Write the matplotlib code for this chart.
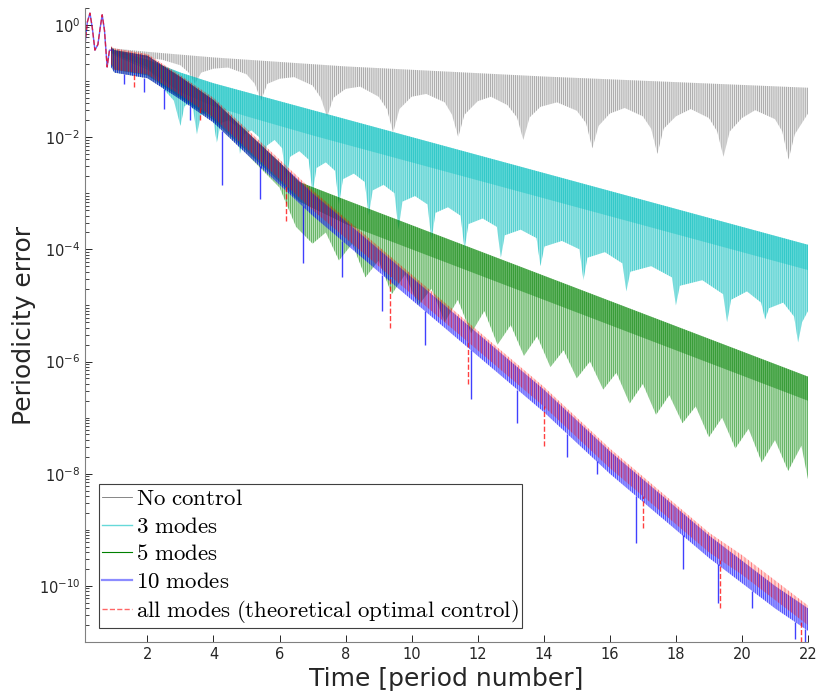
import numpy as np
import matplotlib.pyplot as plt
from matplotlib.lines import Line2D
from matplotlib.ticker import LogLocator, NullFormatter

# values, stored as log10(periodicity error)

# start-up transient shared by every run
t_start = [0.11, 0.18, 0.26, 0.33, 0.41, 0.50, 0.57, 0.63, 0.70, 0.78, 0.85, 0.92]
start_log = [-0.35, 0.05, 0.21, -0.05, -0.45, -0.35, -0.05, 0.18, -0.1, -0.75, -0.45, -0.45]

# No control: top of the oscillation and its scalloped bottom
t_none_up = [0.9, 1, 2, 4, 6, 8, 10, 12, 14, 16, 18, 20, 22]
none_up = [-0.4, -0.42, -0.48, -0.58, -0.66, -0.74, -0.8, -0.86, -0.92, -0.97, -1.02, -1.07, -1.12]
t_none_lo = [0.9, 1.5, 2.44, 3.0, 3.25, 3.44, 3.63, 4.0, 4.44, 5.0, 5.25, 5.44, 5.63, 6.0, 6.44,
             7.0, 7.25, 7.44, 7.63, 8.0, 8.44, 9.0, 9.25, 9.44, 9.63, 10.0, 10.44, 11.0, 11.22,
             11.41, 11.6, 12.0, 12.4, 12.9, 13.19, 13.38, 13.57, 13.9, 14.4, 15.0, 15.28,
             15.47, 15.66, 16.0, 16.45, 17.0, 17.25, 17.44, 17.63, 18.0, 18.45, 19.0, 19.25,
             19.44, 19.63, 20.0, 20.4, 21.0, 21.22, 21.41, 21.6, 22.0]
none_lo = [-0.5, -0.55, -0.62, -0.72, -0.85, -1.05, -0.85, -0.78, -0.76, -0.88, -1.05, -1.35,
           -1.05, -0.96, -0.93, -1.08, -1.3, -1.64, -1.3, -1.14, -1.1, -1.28, -1.5, -1.92,
           -1.5, -1.28, -1.23, -1.38, -1.6, -2.0, -1.6, -1.36, -1.28, -1.43, -1.65, -2.05,
           -1.65, -1.46, -1.38, -1.53, -1.75, -2.2, -1.8, -1.58, -1.48, -1.63, -1.85, -2.3,
           -1.85, -1.63, -1.5, -1.66, -1.9, -2.35, -1.9, -1.66, -1.52, -1.68, -1.9, -2.4,
           -1.95, -1.58]

# 3 modes: top edge, bottom of the dense part, scalloped bottom
t_3m_up = [0.9, 1, 2, 3, 4, 5, 6, 7, 8, 9, 10, 11, 12, 13, 14, 15, 16, 17, 18, 19, 20, 21, 22]
m3_up = [-0.4, -0.45, -0.62, -0.85, -1.04, -1.2, -1.36, -1.52, -1.68, -1.84, -2.0, -2.16,
         -2.32, -2.48, -2.64, -2.8, -2.96, -3.12, -3.28, -3.44, -3.6, -3.76, -3.92]
m3_mid = [-0.5, -0.55, -0.8, -1.2, -1.45, -1.63, -1.8, -1.97, -2.13, -2.29, -2.45, -2.61,
          -2.77, -2.93, -3.09, -3.25, -3.41, -3.57, -3.73, -3.89, -4.05, -4.21, -4.37]
t_3m_lo = [0.9, 2.0, 2.5, 2.8, 3.0, 3.12, 3.25, 3.38, 3.5, 3.62, 3.8, 3.98, 4.1, 4.22, 4.45,
           4.68, 4.8, 4.92, 5.15, 5.38, 5.5, 5.62, 5.85, 6.08, 6.2, 6.32, 6.6, 6.88, 7.0,
           7.12, 7.4, 7.68, 7.8, 7.92, 8.25, 8.58, 8.7, 8.82, 9.15, 9.48, 9.6, 9.72, 10.1,
           10.48, 10.6, 10.72, 11.1, 11.48, 11.6, 11.72, 12.15, 12.58, 12.7, 12.82, 13.3,
           13.78, 13.9, 14.02, 14.55, 15.08, 15.2, 15.32, 15.85, 16.38, 16.5, 16.62, 17.25,
           17.88, 18.0, 18.12, 18.8, 19.43, 19.55, 19.67, 20.15, 20.58, 20.7, 20.82, 21.25,
           21.58, 21.7, 21.82, 22.0]
m3_lo = [-0.5, -0.75, -1.15, -1.35, -1.8, -1.45, -1.4, -1.5, -1.95, -1.6, -1.55, -1.65, -2.1,
         -1.75, -1.7, -1.8, -2.3, -1.95, -1.88, -2.0, -2.55, -2.15, -2.05, -2.2, -2.8, -2.35,
         -2.25, -2.4, -3.0, -2.55, -2.45, -2.6, -3.2, -2.75, -2.65, -2.8, -3.4, -2.95, -2.85,
         -3.0, -3.65, -3.15, -3.05, -3.2, -3.85, -3.35, -3.25, -3.4, -4.0, -3.55, -3.45,
         -3.6, -4.15, -3.75, -3.65, -3.8, -4.3, -3.95, -3.85, -4.0, -4.55, -4.15, -4.05,
         -4.25, -4.75, -4.4, -4.3, -4.5, -5.0, -4.65, -4.55, -4.8, -5.3, -4.9, -4.75, -4.95,
         -5.25, -5.05, -4.95, -5.2, -5.66, -5.3, -5.1]

# 5 modes
t_5m_up = [0.9, 1, 2, 3, 4, 5, 6, 6.6, 8, 10, 12, 14, 16, 18, 20, 22]
m5_up = [-0.4, -0.45, -0.55, -0.93, -1.34, -1.9, -2.45, -2.8, -3.12, -3.57, -4.02, -4.47,
         -4.92, -5.37, -5.82, -6.27]
m5_mid = [-0.7, -0.8, -0.9, -1.3, -1.7, -2.25, -2.8, -3.15, -3.55, -4.0, -4.45, -4.9,
          -5.35, -5.8, -6.25, -6.7]
t_5m_lo = [0.9, 1, 2, 3, 4, 5, 6.0, 6.5, 7.0, 7.4, 7.8, 8.2, 8.6, 9.0, 9.4, 9.8, 10.2, 10.6,
           11.0, 11.4, 11.8, 12.2, 12.6, 13.0, 13.4, 13.8, 14.2, 14.6, 15.0, 15.4, 15.8,
           16.2, 16.6, 17.0, 17.4, 17.8, 18.2, 18.6, 19.0, 19.4, 19.8, 20.2, 20.6, 21.0,
           21.4, 21.8, 22.0]
m5_lo = [-0.75, -0.85, -0.95, -1.33, -1.74, -2.3, -2.9, -3.6, -3.9, -3.7, -4.2, -3.9, -4.5,
         -4.2, -4.8, -4.45, -5.0, -4.7, -5.3, -4.9, -5.5, -5.1, -5.7, -5.35, -5.9, -5.55,
         -6.1, -5.8, -6.3, -6.0, -6.5, -6.2, -6.75, -6.4, -6.95, -6.6, -7.1, -6.8, -7.35,
         -7.0, -7.55, -7.2, -7.8, -7.4, -7.95, -7.5, -8.1]

# 10 modes and all modes (theoretical optimal control)
t_fast = [0.9, 1, 2, 3, 4, 5, 6, 7, 8, 9, 10, 11, 12, 13, 14, 15, 16, 17, 18, 19, 20, 21, 22]
m10_up = [-0.4, -0.45, -0.55, -0.93, -1.34, -1.9, -2.45, -3.0, -3.5, -4.0, -4.5, -5.0, -5.5,
          -6.0, -6.5, -7.05, -7.6, -8.1, -8.6, -9.1, -9.55, -10.0, -10.4]
m10_lo = [-0.75, -0.85, -0.95, -1.33, -1.74, -2.3, -2.85, -3.4, -3.9, -4.4, -4.9, -5.4, -5.9,
          -6.4, -6.9, -7.45, -8.0, -8.5, -9.0, -9.5, -9.95, -10.4, -10.8]
all_up = [-0.38, -0.42, -0.52, -0.9, -1.3, -1.85, -2.4, -2.95, -3.45, -3.95, -4.45, -4.95,
          -5.45, -5.95, -6.45, -7.0, -7.55, -8.05, -8.55, -9.05, -9.45, -9.9, -10.35]
all_lo = [-0.7, -0.8, -0.88, -1.25, -1.65, -2.2, -2.75, -3.3, -3.8, -4.3, -4.8, -5.3, -5.8,
          -6.3, -6.8, -7.35, -7.9, -8.4, -8.9, -9.4, -9.8, -10.25, -10.7]

# deepest visible dips
t_m10_dips = [1.3, 1.9, 2.5, 3.3, 4.26, 5.4, 6.7, 7.9, 9.1, 10.4, 11.8, 13.2, 14.7, 15.6,
              16.8, 18.2, 19.26, 20.3, 21.6, 21.9]
m10_dips = [-1.05, -1.2, -1.5, -1.7, -2.86, -3.1, -4.25, -4.5, -5.1, -5.7, -6.66, -7.1,
            -7.7, -8.0, -9.23, -9.7, -10.3, -10.4, -10.95, -11.0]
t_all_dips = [1.6, 3.6, 6.2, 9.35, 11.7, 14.0, 17.0, 19.35, 21.8]
all_dips = [-1.1, -1.7, -3.5, -5.4, -6.4, -7.5, -8.96, -10.4, -11.0]

labels = ['No control', '3 modes', '5 modes', '10 modes',
          'all modes (theoretical optimal control)']


def dec(v):
    return 10.0 ** np.asarray(v, dtype=float)


def band(ax, t_up, up, t_lo, lo, **kw):
    xs = np.r_[t_up, np.asarray(t_lo)[::-1]]
    ys = np.r_[dec(up), dec(lo)[::-1]]
    ax.fill(xs, ys, **kw)


plt.rcParams['hatch.linewidth'] = 0.45

fig = plt.figure(figsize=(8.19, 6.97), dpi=100)
ax = fig.add_axes([0.1038, 0.0789, 0.8828, 0.9096])
ax.set_yscale('log')

gray = (0.45, 0.45, 0.45)
cyan = (0.0, 0.75, 0.75)
green = (0.0, 0.5, 0.0)

# No control
band(ax, t_none_up, none_up, t_none_lo, none_lo, facecolor=(0.6, 0.6, 0.6, 0.22),
     edgecolor=(0.4, 0.4, 0.4, 0.7), hatch='|' * 8, linewidth=0)
# 3 modes
band(ax, t_3m_up, m3_up, t_3m_lo, m3_lo, facecolor=(0.0, 0.75, 0.75, 0.38),
     edgecolor=(0.0, 0.72, 0.72, 0.7), hatch='|' * 8, linewidth=0)
band(ax, t_3m_up, m3_up, t_3m_up, m3_mid, facecolor=(0.0, 0.75, 0.75, 0.4), linewidth=0)
# 5 modes
band(ax, t_5m_up, m5_up, t_5m_lo, m5_lo, facecolor=(0.0, 0.55, 0.0, 0.28),
     edgecolor=(0.0, 0.5, 0.0, 0.7), hatch='|' * 8, linewidth=0)
band(ax, t_5m_up, m5_up, t_5m_up, m5_mid, facecolor=(0.0, 0.5, 0.0, 0.45), linewidth=0)
# 10 modes / all modes
band(ax, t_fast, m10_up, t_fast, m10_lo, facecolor=(0.0, 0.0, 1.0, 0.3),
     edgecolor=(0.0, 0.0, 1.0, 0.85), hatch='|' * 8, linewidth=0)
band(ax, t_fast, all_up, t_fast, all_lo, facecolor=(1.0, 0.0, 0.0, 0.18),
     edgecolor=(1.0, 0.0, 0.0, 0.6), hatch='|' * 5, linewidth=0)

# deep dips hanging below the bands
ax.vlines(t_m10_dips, dec(m10_dips), dec(np.interp(t_m10_dips, t_fast, m10_lo)),
          color=(0.0, 0.0, 1.0, 0.75), lw=1.0)
ax.vlines(t_all_dips, dec(all_dips), dec(np.interp(t_all_dips, t_fast, all_lo)),
          color=(1.0, 0.0, 0.0, 0.75), lw=1.0, linestyles='--')

ax.plot(t_start, dec(start_log), color=(0.0, 0.0, 1.0, 0.6), lw=1.0)
ax.plot(t_start, dec(start_log), color=(1.0, 0.0, 0.0, 0.7), lw=1.0, ls='--')

ax.set_xlim(0.11, 22)
ax.set_ylim(1e-11, 2.0)
ax.set_xticks(np.arange(2, 23, 2))
ax.set_yticks(dec([-10, -8, -6, -4, -2, 0]))
ax.set_yticklabels([r'$10^{%d}$' % e for e in [-10, -8, -6, -4, -2, 0]])
ax.yaxis.set_minor_locator(LogLocator(base=10, subs=np.arange(1, 10), numticks=100))
ax.yaxis.set_minor_formatter(NullFormatter())
ax.tick_params(which='both', direction='in', colors='#262626', labelsize=10.5,
               top=False, right=False)
ax.tick_params(which='major', length=5, width=0.7)
ax.tick_params(which='minor', length=3, width=0.6)
for s in ['top', 'right']:
    ax.spines[s].set_visible(False)
for s in ['left', 'bottom']:
    ax.spines[s].set_color('#808080')
    ax.spines[s].set_linewidth(0.8)

ax.set_xlabel('Time [period number]', fontsize=18, color='#262626', labelpad=4)
ax.set_ylabel('Periodicity error', fontsize=18, color='#262626', labelpad=2)

handles = [Line2D([], [], color=gray, lw=0.6),
           Line2D([], [], color=(0.4, 0.85, 0.85), lw=1.0),
           Line2D([], [], color=green, lw=0.8),
           Line2D([], [], color=(0.55, 0.55, 1.0), lw=1.6),
           Line2D([], [], color=(1.0, 0.4, 0.4), lw=1.0, ls='--')]
texts = [r'$\mathrm{%s}$' % s.replace(' ', r'\ ') for s in labels]
leg = ax.legend(handles, texts, loc='lower left', bbox_to_anchor=(0.0194, 0.022),
                borderaxespad=0, prop={'size': 16.5, 'math_fontfamily': 'cm'},
                handlelength=1.3, handletextpad=0.15, labelspacing=0.2,
                borderpad=0.15, fancybox=False, framealpha=1)
leg.get_frame().set_edgecolor('#404040')
leg.get_frame().set_linewidth(0.8)

fig.savefig('out.png', dpi=100)
